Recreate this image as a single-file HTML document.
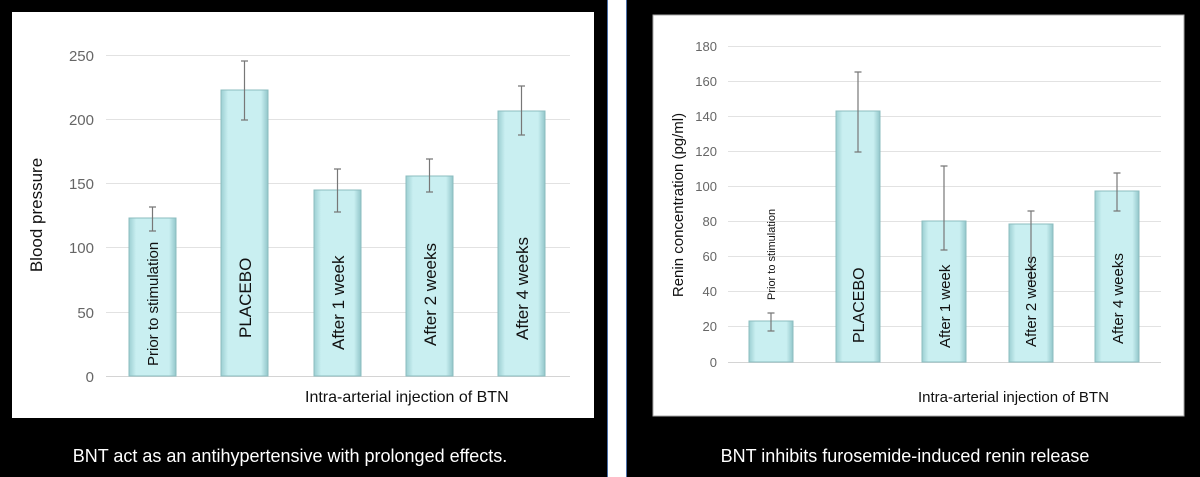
<!DOCTYPE html>
<html><head><meta charset="utf-8"><style>
html,body{margin:0;padding:0;background:#000;}
svg{display:block;font-family:"Liberation Sans",sans-serif;}
</style></head><body>
<svg width="1200" height="477" viewBox="0 0 1200 477">
<defs>
<linearGradient id="g" x1="0" x2="1" y1="0" y2="0">
<stop offset="0" stop-color="#9ccfd2"/><stop offset="0.15" stop-color="#c9eff1"/><stop offset="0.85" stop-color="#c9eff1"/><stop offset="1" stop-color="#92c6ca"/>
</linearGradient>
</defs>
<rect x="0" y="0" width="1200" height="477" fill="#000"/>
<rect x="626" y="0" width="574" height="477" fill="#000"/>
<rect x="12" y="12" width="582" height="406" fill="#fff"/>
<rect x="608" y="0" width="18" height="477" fill="#fff"/>
<line x1="607.5" y1="0" x2="607.5" y2="477" stroke="#4a6ea8"/>
<line x1="626.5" y1="0" x2="626.5" y2="477" stroke="#4a6ea8"/>
<rect x="653" y="15" width="531" height="401" fill="#fff" stroke="#aaa"/>

<!-- left chart -->
<g stroke="#e2e2e2" stroke-width="1">
<line x1="106" x2="570" y1="55.5" y2="55.5"/><line x1="106" x2="570" y1="119.5" y2="119.5"/>
<line x1="106" x2="570" y1="183.5" y2="183.5"/><line x1="106" x2="570" y1="247.5" y2="247.5"/>
<line x1="106" x2="570" y1="312.5" y2="312.5"/><line x1="106" x2="570" y1="376.5" y2="376.5" stroke="#d4d4d4"/>
</g>
<g fill="#666" font-size="15" text-anchor="end">
<text x="94" y="61">250</text><text x="94" y="125">200</text><text x="94" y="189">150</text>
<text x="94" y="253">100</text><text x="94" y="318">50</text><text x="94" y="382">0</text>
</g>
<text transform="translate(42,215) rotate(-90)" font-size="17" text-anchor="middle" fill="#111">Blood pressure</text>
<g fill="url(#g)" stroke="#8bbcbf">
<rect x="129" y="218" width="47" height="158"/>
<rect x="221" y="90" width="47" height="286"/>
<rect x="314" y="190" width="47" height="186"/>
<rect x="406" y="176" width="47" height="200"/>
<rect x="498" y="111" width="47" height="265"/>
</g>
<g stroke="#777" stroke-width="1.2">
<path d="M152.5 207V231M149 207h7M149 231h7"/>
<path d="M244.5 61V120M241 61h7M241 120h7"/>
<path d="M337.5 169V212M334 169h7M334 212h7"/>
<path d="M429.5 159V192M426 159h7M426 192h7"/>
<path d="M521.5 86V135M518 86h7M518 135h7"/>
</g>
<g fill="#111" font-size="15">
<text transform="translate(158,366) rotate(-90)">Prior to stimulation</text>
<text transform="translate(251,338) rotate(-90)" font-size="17">PLACEBO</text>
<text transform="translate(344,350) rotate(-90)" font-size="17">After 1 week</text>
<text transform="translate(436,346) rotate(-90)" font-size="17">After 2 weeks</text>
<text transform="translate(528,340) rotate(-90)" font-size="17">After 4 weeks</text>
</g>
<text x="305" y="402" font-size="16" fill="#111">Intra-arterial injection of BTN</text>

<!-- right chart -->
<g stroke="#e2e2e2">
<line x1="728" x2="1161" y1="46.5" y2="46.5"/><line x1="728" x2="1161" y1="81.5" y2="81.5"/>
<line x1="728" x2="1161" y1="116.5" y2="116.5"/><line x1="728" x2="1161" y1="151.5" y2="151.5"/>
<line x1="728" x2="1161" y1="186.5" y2="186.5"/><line x1="728" x2="1161" y1="221.5" y2="221.5"/>
<line x1="728" x2="1161" y1="256.5" y2="256.5"/><line x1="728" x2="1161" y1="291.5" y2="291.5"/>
<line x1="728" x2="1161" y1="326.5" y2="326.5"/><line x1="728" x2="1161" y1="362.5" y2="362.5" stroke="#d4d4d4"/>
</g>
<g fill="#666" font-size="13" text-anchor="end">
<text x="717" y="51">180</text><text x="717" y="86">160</text><text x="717" y="121">140</text>
<text x="717" y="156">120</text><text x="717" y="191">100</text><text x="717" y="226">80</text>
<text x="717" y="261">60</text><text x="717" y="296">40</text><text x="717" y="331">20</text><text x="717" y="367">0</text>
</g>
<text transform="translate(683,205) rotate(-90)" font-size="15" text-anchor="middle" fill="#111">Renin concentration (pg/ml)</text>
<g fill="url(#g)" stroke="#8bbcbf">
<rect x="749" y="321" width="44" height="41"/>
<rect x="836" y="111" width="44" height="251"/>
<rect x="922" y="221" width="44" height="141"/>
<rect x="1009" y="224" width="44" height="138"/>
<rect x="1095" y="191" width="44" height="171"/>
</g>
<g stroke="#777" stroke-width="1.2">
<path d="M771 313V331M767.5 313h7M767.5 331h7"/>
<path d="M858 72V152M854.5 72h7M854.5 152h7"/>
<path d="M944 166V250M940.5 166h7M940.5 250h7"/>
<path d="M1031 211V281M1027.5 211h7M1027.5 281h7"/>
<path d="M1117 173V211M1113.5 173h7M1113.5 211h7"/>
</g>
<g fill="#111" font-size="15">
<text transform="translate(775,300) rotate(-90)" font-size="11">Prior to stimulation</text>
<text transform="translate(864,343) rotate(-90)" font-size="16">PLACEBO</text>
<text transform="translate(950,348) rotate(-90)">After 1 week</text>
<text transform="translate(1036,347) rotate(-90)">After 2 weeks</text>
<text transform="translate(1123,344) rotate(-90)">After 4 weeks</text>
</g>
<text x="918" y="402" font-size="15" fill="#111">Intra-arterial injection of BTN</text>

<text x="290" y="462" font-size="18" fill="#fff" text-anchor="middle">BNT act as an antihypertensive with prolonged effects.</text>
<text x="905" y="462" font-size="18" fill="#fff" text-anchor="middle">BNT inhibits furosemide-induced renin release</text>
</svg>
</body></html>
